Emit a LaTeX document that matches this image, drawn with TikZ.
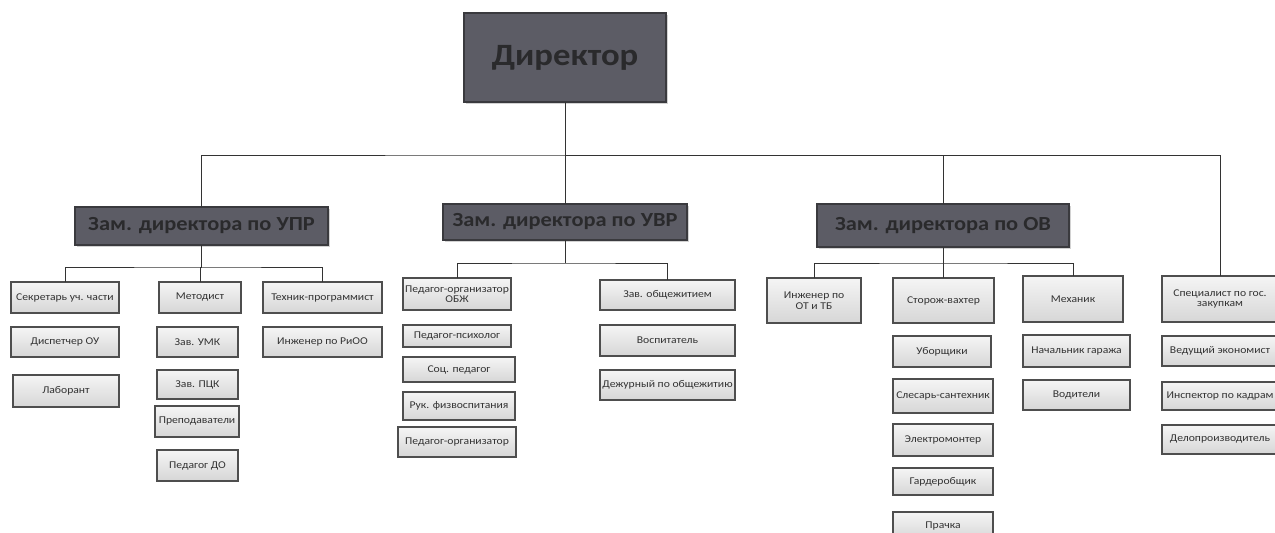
\documentclass[tikz,border=0pt]{standalone}
\usepackage{fontspec}
\setmainfont{Carlito}[FakeStretch=1.12]
\usetikzlibrary{shadows}
\definecolor{darkfill}{HTML}{5C5C65}
\definecolor{darkedge}{HTML}{3A3A3E}
\definecolor{darktext}{HTML}{2A2A2C}
\definecolor{lineclr}{HTML}{333333}
\definecolor{subedge}{HTML}{4E4E4E}
\definecolor{subtext}{HTML}{333333}
\tikzset{
  sbox/.style={draw=subedge, line width=1.1pt, top color=gray!8, bottom color=gray!32,
    inner sep=0pt, outer sep=0pt, align=center, text=subtext,
    font=\fontsize{10.4}{10.6}\selectfont,
    drop shadow={shadow xshift=1.2pt, shadow yshift=-1.2pt, opacity=0.35}},
  dbox/.style={draw=darkedge, line width=1.4pt, fill=darkfill, inner sep=0pt, outer sep=0pt,
    text=darktext, font=\bfseries\fontsize{20}{22}\selectfont,
    drop shadow={shadow xshift=1.5pt, shadow yshift=-1.5pt, opacity=0.35}},
  conn/.style={draw=lineclr, line width=0.8pt}
}
\newcommand\bx[7][sbox]{\node[#1, minimum width={(#5-#3)*1pt}, minimum height={(#6-#4)*1pt}] (#2) at ({(#3+#5)/2},{(#4+#6)/2}) {#7};}
\begin{document}
\begin{tikzpicture}[x=1pt,y=-1pt]
\useasboundingbox[fill=white] (0,0) rectangle (1275,533);
\clip (0,0) rectangle (1275,533);
% top levels
\bx[dbox,font=\bfseries\fontsize{31}{33}\selectfont]{dir}{464}{13}{666}{102}{Директор}
\bx[dbox]{upr}{75}{207}{328}{245}{Зам. директора по УПР}
\bx[dbox]{uvr}{443}{204}{687}{240}{Зам. директора по УВР}
\bx[dbox]{ov}{817}{204}{1069}{247}{Зам. директора по ОВ}
% UPR group
\bx{sec}{11}{282}{119}{313}{Секретарь уч. части}
\bx{disp}{11}{327}{119}{357}{Диспетчер ОУ}
\bx{lab}{13}{375}{119}{407}{Лаборант}
\bx{met}{159}{282}{241}{313}{Методист}
\bx{umk}{157}{327}{238}{357}{Зав. УМК}
\bx{pck}{157}{370}{238}{399}{Зав. ПЦК}
\bx{prep}{155}{406}{239}{437}{Преподаватели}
\bx{pdo}{157}{450}{238}{481}{Педагог ДО}
\bx{tech}{263}{282}{382}{313}{Техник-программист}
\bx{ing}{263}{327}{382}{357}{Инженер по РиОО}
% UVR group
\bx{obzh}{403}{278}{511}{310}{Педагог-организатор\\ОБЖ}
\bx{psy}{403}{325}{511}{347}{Педагог-психолог}
\bx{soc}{403}{357}{515}{382}{Соц. педагог}
\bx{fiz}{403}{392}{515}{420}{Рук. физвоспитания}
\bx{porg}{398}{427}{516}{457}{Педагог-организатор}
\bx{obsh}{600}{280}{735}{310}{Зав. общежитием}
\bx{vos}{600}{325}{735}{356}{Воспитатель}
\bx{dej}{600}{370}{735}{400}{Дежурный по общежитию}
% OV group
\bx{ot}{767}{278}{861}{323}{Инженер по\\ОТ и ТБ}
\bx{stor}{893}{278}{994}{323}{Сторож-вахтер}
\bx{ubor}{893}{336}{991}{367}{Уборщики}
\bx{sles}{893}{379}{993}{413}{Слесарь-сантехник}
\bx{elek}{893}{424}{993}{456}{Электромонтер}
\bx{gard}{893}{468}{993}{495}{Гардеробщик}
\bx{prach}{893}{512}{993}{540}{Прачка}
\bx{mech}{1023}{276}{1123}{322}{Механик}
\bx{nach}{1023}{335}{1130}{367}{Начальник гаража}
\bx{vod}{1023}{380}{1130}{410}{Водители}
% specialist group
\bx{spec}{1162}{276}{1278}{322}{Специалист по гос.\\закупкам}
\bx{ved}{1162}{336}{1278}{366}{Ведущий экономист}
\bx{insp}{1162}{382}{1278}{410}{Инспектор по кадрам}
\bx{delo}{1162}{425}{1278}{454}{Делопроизводитель}
% connectors
\coordinate (bus) at (565,155);
\draw[conn] (dir.south) -- (uvr.north);
\draw[conn] (upr.north) |- (bus) -| (spec.north);
\draw[conn] (bus) -| (ov.north);
\draw[conn] (upr.south) -- ++(0,22) coordinate (u);
\draw[conn] (sec.north) |- (u) -| (tech.north);
\draw[conn] (u) -| (met.north);
\draw[conn] (uvr.south) -- ++(0,23) coordinate (v);
\draw[conn] (obzh.north) |- (v) -| (obsh.north);
\draw[conn] (ov.south) -- ++(0,16) coordinate (o);
\draw[conn] (ot.north) |- (o) -| (mech.north);
\draw[conn] (o) -| (stor.north);
\end{tikzpicture}
\end{document}
